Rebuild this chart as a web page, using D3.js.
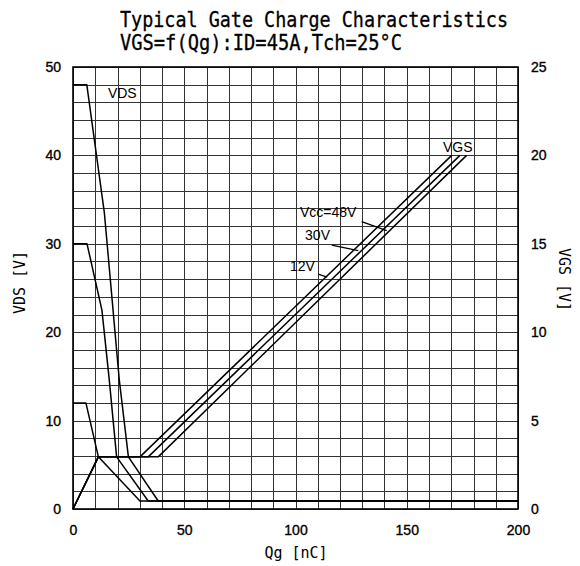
<!DOCTYPE html>
<html><head><meta charset="utf-8">
<script src="https://cdn.jsdelivr.net/npm/d3@7"></script>
<style>
html,body{margin:0;padding:0;background:#fff;}
svg{display:block;}
</style></head>
<body>
<svg id="chart" width="580" height="566"></svg>
<script>
// ---- data ----
const titleLines = ["Typical Gate Charge Characteristics", "VGS=f(Qg):ID=45A,Tch=25°C"];
const xTickLabels = [0, 50, 100, 150, 200];
const yLeftTickLabels = [0, 10, 20, 30, 40, 50];
const yRightTickLabels = [0, 5, 10, 15, 20, 25];
const vccLabels = ["12V", "30V", "Vcc=48V"];

// VGS curves (right axis)
const vgsQg12 = [0, 11.4, 30.1, 170.2];
const vgs12   = [0, 2.95, 2.95, 20.0];
const vgsQg30 = [0, 11.4, 33.8, 173.9];
const vgs30   = [0, 2.95, 2.95, 20.0];
const vgsQg48 = [0, 11.4, 38.3, 176.9];
const vgs48   = [0, 2.95, 2.95, 20.0];

// VDS curves (left axis)
const vdsQg12 = [0, 5.8, 11.4, 30.1, 200];
const vds12   = [12, 12, 5.9, 0.9, 0.9];
const vdsQg30 = [0, 6.3, 13.0, 16.3, 19.6, 33.8, 200];
const vds30   = [30, 30, 22.5, 14.6, 5.9, 0.9, 0.9];
const vdsQg48 = [0, 6.2, 14.1, 20.8, 24.9, 38.3, 200];
const vds48   = [48, 48, 33.5, 14.6, 5.9, 0.9, 0.9];

// ---- layout ----
const L = 73, R = 518, T = 67, B = 509;
const svg = d3.select("#chart");
const x = d3.scaleLinear().domain([0, 200]).range([L, R]);
const yL = d3.scaleLinear().domain([0, 50]).range([B, T]);
const yR = d3.scaleLinear().domain([0, 25]).range([B, T]);

const sans = "'Liberation Sans', Arial, sans-serif";
const mono = "'DejaVu Sans Mono', 'Liberation Mono', monospace";

// grid
const grid = svg.append("g").attr("stroke", "#333").attr("stroke-width", 1);
x.ticks(20).forEach(v => {
  const px = Math.round(x(v)) + 0.5;
  grid.append("line").attr("x1", px).attr("x2", px).attr("y1", T).attr("y2", B);
});
yL.ticks(25).forEach(v => {
  const py = Math.round(yL(v)) + 0.5;
  grid.append("line").attr("x1", L).attr("x2", R).attr("y1", py).attr("y2", py);
});

// axes (labels only)
const axB = svg.append("g").attr("transform", `translate(0,${B})`)
  .call(d3.axisBottom(x).tickValues(xTickLabels).tickSize(0).tickPadding(16));
const axLft = svg.append("g").attr("transform", `translate(${L},0)`)
  .call(d3.axisLeft(yL).tickValues(yLeftTickLabels).tickSize(0).tickPadding(12));
const axRt = svg.append("g").attr("transform", `translate(${R},0)`)
  .call(d3.axisRight(yR).tickValues(yRightTickLabels).tickSize(0).tickPadding(13));
[axB, axLft, axRt].forEach(a => {
  a.select(".domain").remove();
  a.selectAll("text").attr("font-family", sans).attr("font-size", 14).attr("fill", "#000")
    .attr("stroke", "#000").attr("stroke-width", 0.35);
});

// frame
svg.append("rect").attr("x", L).attr("y", T).attr("width", R - L).attr("height", B - T)
  .attr("fill", "none").attr("stroke", "#000").attr("stroke-width", 1.6);

// curves
const curves = svg.append("g").attr("fill", "none").attr("stroke", "#000")
  .attr("stroke-width", 1.5).attr("stroke-linejoin", "round");
function drawSeries(qs, vs, yScale) {
  const pts = qs.map((q, i) => [q, vs[i]]);
  curves.append("path").attr("d", d3.line().x(d => x(d[0])).y(d => yScale(d[1]))(pts));
}
drawSeries(vgsQg12, vgs12, yR);
drawSeries(vgsQg30, vgs30, yR);
drawSeries(vgsQg48, vgs48, yR);
drawSeries(vdsQg12, vds12, yL);
drawSeries(vdsQg30, vds30, yL);
drawSeries(vdsQg48, vds48, yL);

// annotations
const ann = svg.append("g").attr("font-family", sans).attr("font-size", 14).attr("fill", "#000");
ann.append("text").attr("x", x(15.7)).attr("y", yL(46.5)).text("VDS");
ann.append("text").attr("x", x(166.3)).attr("y", yR(20.19)).text("VGS");
ann.append("text").attr("x", x(102.0)).attr("y", yR(16.52)).text(vccLabels[2]);
ann.append("text").attr("x", x(104.3)).attr("y", yR(15.21)).text(vccLabels[1]);
ann.append("text").attr("x", x(97.5)).attr("y", yR(13.46)).text(vccLabels[0]);
const lead = svg.append("g").attr("stroke", "#000").attr("stroke-width", 1.3);
[[129.75, 16.25, 141.0, 15.74], [116.3, 14.93, 128.2, 14.61], [110.2, 13.29, 114.2, 13.12]]
  .forEach(d => lead.append("line").attr("x1", x(d[0])).attr("y1", yR(d[1]))
    .attr("x2", x(d[2])).attr("y2", yR(d[3])));

// titles
svg.append("text").attr("x", 120).attr("y", 27).attr("font-family", mono).attr("font-size", 21)
  .attr("stroke", "#000").attr("stroke-width", 0.3)
  .attr("textLength", 388).attr("lengthAdjust", "spacingAndGlyphs").text(titleLines[0]);
svg.append("text").attr("x", 120).attr("y", 49.5).attr("font-family", mono).attr("font-size", 21)
  .attr("stroke", "#000").attr("stroke-width", 0.3)
  .attr("textLength", 282).attr("lengthAdjust", "spacingAndGlyphs").text(titleLines[1]);

// axis titles
svg.append("text").attr("x", 296).attr("y", 558).attr("text-anchor", "middle")
  .attr("font-family", mono).attr("font-size", 15).text("Qg [nC]");
svg.append("text").attr("transform", "translate(25,282.5) rotate(-90)").attr("text-anchor", "middle")
  .attr("font-family", mono).attr("font-size", 15).text("VDS [V]");
svg.append("text").attr("transform", "translate(559,279.5) rotate(90)").attr("text-anchor", "middle")
  .attr("font-family", mono).attr("font-size", 15).text("VGS [V]");
</script>
</body></html>
